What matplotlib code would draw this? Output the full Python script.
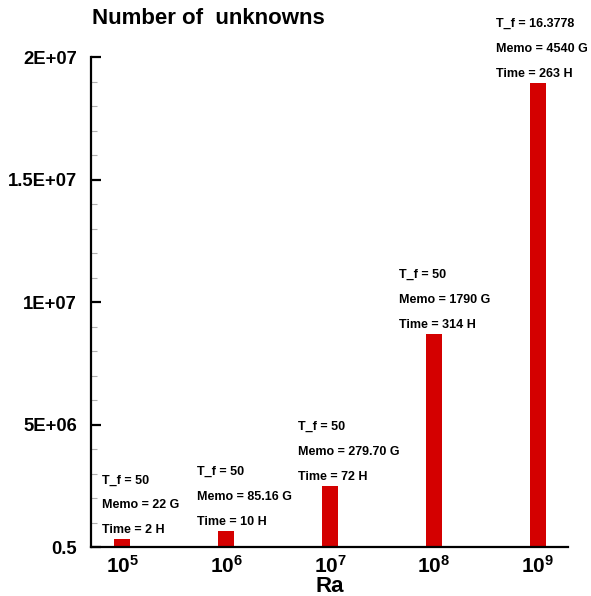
import matplotlib
matplotlib.use("Agg")
import matplotlib.pyplot as plt
from matplotlib.ticker import MultipleLocator, FixedLocator

plt.rcParams['font.family'] = ['Liberation Sans', 'DejaVu Sans']
plt.rcParams['font.weight'] = 'bold'
plt.rcParams['mathtext.fontset'] = 'custom'
plt.rcParams['mathtext.rm'] = 'Liberation Sans:bold'
plt.rcParams['mathtext.bf'] = 'Liberation Sans:bold'
plt.rcParams['mathtext.it'] = 'Liberation Sans:bold'

# Rayleigh numbers and mesh sizes
ra_labels = [r'$\mathbf{10^{5}}$', r'$\mathbf{10^{6}}$', r'$\mathbf{10^{7}}$',
             r'$\mathbf{10^{8}}$', r'$\mathbf{10^{9}}$']
unknowns = [0.31e6, 0.67e6, 2.49e6, 8.69e6, 1.895e7]
t_final = ['50', '50', '50', '50', '16.3778']
memory = ['22 G', '85.16 G', '279.70 G', '1790 G', '4540 G']
wall_time = ['2 H', '10 H', '72 H', '314 H', '263 H']

y_ticks = [0.5, 5e6, 1e7, 1.5e7, 2e7]
y_tick_labels = ['0.5', '5E+06', '1E+07', '1.5E+07', '2E+07']

# horizontal offset (pixels) of each annotation block from its bar centre
text_dx_px = [-20, -29, -32, -35, -42]

fig = plt.figure(figsize=(5.91, 5.96), dpi=100)
ax = fig.add_axes([91 / 591, 1 - 547 / 596, (568 - 91) / 591, (547 - 57) / 596])

xpos = list(range(len(unknowns)))
ax.bar(xpos, unknowns, width=0.155, color='#d40000', zorder=2)

ax.set_xlim(-0.3, 4.29)
ax.set_ylim(0.5, 2e7)

for s in ('top', 'right'):
    ax.spines[s].set_visible(False)
for s in ('left', 'bottom'):
    ax.spines[s].set_linewidth(1.6)

ax.set_xticks(xpos)
ax.set_xticklabels(ra_labels, fontsize=15)
ax.tick_params(axis='x', length=0, pad=6)

ax.yaxis.set_major_locator(FixedLocator(y_ticks))
ax.set_yticklabels(y_tick_labels, fontsize=13.3, fontweight='bold')
ax.yaxis.set_minor_locator(MultipleLocator(1e6))
ax.tick_params(axis='y', which='major', direction='in', length=7, width=1.6, pad=10)
ax.tick_params(axis='y', which='minor', direction='in', length=4.5, width=0.8, color='#b0b0b0')

# axis title placed in figure coordinates, centred under the axes
fig.text((91 + 568) / 2 / 591, 1 - 592 / 596, 'Ra', fontsize=16,
         fontweight='bold', ha='center', va='baseline')

px2pt = 72 / 100
for i, (h, tf, mem, tm) in enumerate(zip(unknowns, t_final, memory, wall_time)):
    lines = [f'Time = {tm}', f'Memo = {mem}', f'T_f = {tf}']
    for k, s in enumerate(lines):
        ax.annotate(s, xy=(i, h), xytext=(text_dx_px[i] * px2pt, (9 + 25 * k) * px2pt),
                    textcoords='offset points', ha='left', va='center',
                    fontsize=9, fontweight='bold', annotation_clip=False)

fig.text(92 / 591, 1 - 18 / 596, 'Number of  unknowns', fontsize=16,
         fontweight='bold', ha='left', va='center')

fig.savefig('out.png', dpi=100)
